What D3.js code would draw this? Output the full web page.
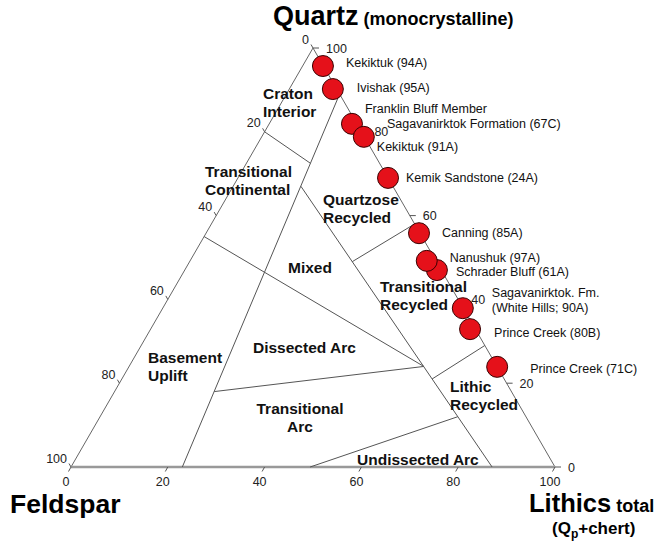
<!DOCTYPE html>
<html>
<head>
<meta charset="utf-8">
<script src="https://cdn.jsdelivr.net/npm/d3@7"></script>
<style>
  body { margin: 0; background: #fff; }
  text { font-family: Arial, "Liberation Sans", sans-serif; }
</style>
</head>
<body>
<svg id="chart"></svg>
<script>
// sample compositions, percent Q / F / L
const sampleNames = [
    "Kekiktuk (94A)", "Ivishak (95A)", "Sagavanirktok Formation (67C)", "Kekiktuk (91A)",
    "Kemik Sandstone (24A)", "Canning (85A)", "Schrader Bluff (61A)", "Nanushuk (97A)",
    "Sagavanirktok. Fm. (White Hills; 90A)", "Prince Creek (80B)", "Prince Creek (71C)"
];
const quartz   = [95.7, 90.2, 81.9, 78.8, 69.0, 55.8, 47.0, 49.2, 37.9, 32.9, 23.9];
const feldspar = [ 0.1,  0.8,  1.0,  0.1,  0.0,  0.2,  0.9,  1.9,  0.1,  1.1,  0.0];
const lithics  = [ 4.2,  9.0, 17.1, 21.1, 31.0, 44.0, 52.1, 48.9, 62.0, 66.0, 76.1];
const sampleLabels = [
    ["Kekiktuk (94A)"], ["Ivishak (95A)"],
    ["Franklin Bluff Member", "Sagavanirktok Formation (67C)"],
    ["Kekiktuk (91A)"], ["Kemik Sandstone (24A)"], ["Canning (85A)"],
    ["Schrader Bluff (61A)"], ["Nanushuk (97A)"],
    ["Sagavanirktok. Fm.", "(White Hills; 90A)"],
    ["Prince Creek (80B)"], ["Prince Creek (71C)"]
];

const tickValues = [0, 20, 40, 60, 80, 100];

// provenance field boundaries, endpoints as [Q, F, L]
const fieldLines = [
    [[89, 0, 11], [0, 77, 23]],
    [[80, 20, 0], [72.5, 14.3, 13.2]],
    [[55, 45, 0], [24, 15.1, 60.9]],
    [[67, 19, 14], [0, 13, 87]],
    [[58, 0, 42], [49, 17.4, 33.6]],
    [[29, 0, 71], [21, 14.9, 64.1]],
    [[18, 61.4, 20.6], [24, 15.1, 60.9]],
    [[0, 50.6, 49.4], [12, 14.1, 73.9]]
];
const fieldNames = [
    ["Craton", "Interior"], ["Transitional", "Continental"], ["Quartzose", "Recycled"],
    ["Mixed"], ["Transitional", "Recycled"], ["Dissected Arc"], ["Basement", "Uplift"],
    ["Transitional", "Arc"], ["Lithic", "Recycled"], ["Undissected Arc"]
];

// layout only
const labelOffsets = [
    [[23, 1]], [[24, 3]], [[13, -11], [35, 4]], [[13, 14]], [[18, 4]], [[23, 4]],
    [[19, 6]], [[23, 1]], [[29, -11], [29, 4]], [[24, 8]], [[33, 6]]
];
const fieldLabelPos = [
    [263, 99, "start"], [205, 177, "start"], [323, 205, "start"], [288, 273, "start"],
    [380, 292, "start"], [253, 353, "start"], [148, 363, "start"], [300, 414, "middle"],
    [450, 392, "start"], [357, 465, "start"]
];

const W = 659, H = 552;
const svg = d3.select("#chart").attr("width", W).attr("height", H);

const xs = d3.scaleLinear().domain([0, 100]).range([71, 555]);
const ys = d3.scaleLinear().domain([0, 100]).range([467, 48]);
const proj = ([q, f, l]) => [xs(l + q / 2), ys(q)];

const samples = sampleNames.map((name, i) => ({
    name: name,
    qfl: [quartz[i], feldspar[i], lithics[i]],
    lines: sampleLabels[i],
    offs: labelOffsets[i]
}));

const g = svg.append("g");

// triangle edges
const apex = proj([100, 0, 0]), fVert = proj([0, 100, 0]), lVert = proj([0, 0, 100]);
g.append("path")
    .attr("d", d3.line()([fVert, apex, lVert]))
    .attr("fill", "none")
    .attr("stroke", "#666")
    .attr("stroke-width", 1);
g.append("line")
    .attr("x1", fVert[0]).attr("y1", fVert[1])
    .attr("x2", lVert[0]).attr("y2", lVert[1])
    .attr("stroke", "#999")
    .attr("stroke-width", 2.5);

// field boundaries
g.selectAll(".field-line")
    .data(fieldLines)
    .enter()
    .append("path")
    .attr("class", "field-line")
    .attr("d", d => d3.line()(d.map(proj)))
    .attr("fill", "none")
    .attr("stroke", "#555")
    .attr("stroke-width", 1);

// ticks and tick labels
const tickFont = "12.5px";
tickValues.forEach(v => {
    // lithics along the bottom
    let p = proj([0, 100 - v, v]);
    g.append("line").attr("x1", p[0]).attr("y1", p[1])
        .attr("x2", p[0] - 2.5).attr("y2", p[1] + 4.5).attr("stroke", "#555");
    g.append("text").attr("x", p[0] - 5).attr("y", 486)
        .attr("text-anchor", "middle").style("font-size", tickFont).attr("fill", "#222").text(v);

    // quartz along the right edge
    p = proj([v, 0, 100 - v]);
    g.append("line").attr("x1", p[0]).attr("y1", p[1])
        .attr("x2", p[0] + 6).attr("y2", p[1]).attr("stroke", "#555");
    g.append("text").attr("x", p[0] + 13).attr("y", p[1] + 4.5)
        .style("font-size", tickFont).attr("fill", "#222").text(v);

    // feldspar along the left edge
    p = proj([100 - v, v, 0]);
    g.append("line").attr("x1", p[0]).attr("y1", p[1])
        .attr("x2", p[0] - 2).attr("y2", p[1] - 3.5).attr("stroke", "#555");
    g.append("text").attr("x", p[0] - 4).attr("y", p[1] - 4.5)
        .attr("text-anchor", "end").style("font-size", tickFont).attr("fill", "#222").text(v);
});

// field names
fieldNames.forEach((lines, i) => {
    const [x, y, anchor] = fieldLabelPos[i];
    const t = g.append("text")
        .attr("x", x).attr("y", y)
        .attr("text-anchor", anchor)
        .style("font-size", "15.5px")
        .style("font-weight", "bold")
        .attr("fill", "#111");
    lines.forEach((s, k) => {
        t.append("tspan").attr("x", x).attr("dy", k === 0 ? 0 : 18).text(s);
    });
});

// sample points
g.selectAll(".sample")
    .data(samples)
    .enter()
    .append("circle")
    .attr("class", "sample")
    .attr("cx", d => proj(d.qfl)[0])
    .attr("cy", d => proj(d.qfl)[1])
    .attr("r", 10.5)
    .attr("fill", "#e5111a")
    .attr("stroke", "#3a0000")
    .attr("stroke-width", 1);

samples.forEach(d => {
    const [cx, cy] = proj(d.qfl);
    d.lines.forEach((s, k) => {
        g.append("text")
            .attr("x", cx + d.offs[k][0])
            .attr("y", cy + d.offs[k][1])
            .style("font-size", "12.5px")
            .attr("fill", "#111")
            .text(s);
    });
});

// corner titles
const qt = svg.append("text").attr("x", 273).attr("y", 25)
    .style("font-weight", "bold").attr("fill", "#000");
qt.append("tspan").style("font-size", "27px").text("Quartz");
qt.append("tspan").style("font-size", "18px").text(" (monocrystalline)");

svg.append("text").attr("x", 10).attr("y", 513)
    .style("font-size", "26.5px").style("font-weight", "bold").text("Feldspar");

const lt = svg.append("text").attr("x", 529).attr("y", 512)
    .style("font-weight", "bold");
lt.append("tspan").style("font-size", "25.5px").text("Lithics");
lt.append("tspan").style("font-size", "18px").text(" total");

const qp = svg.append("text").attr("x", 552).attr("y", 534)
    .style("font-weight", "bold").style("font-size", "17px");
qp.append("tspan").text("(Q");
qp.append("tspan").attr("dy", 4).style("font-size", "12px").text("p");
qp.append("tspan").attr("dy", -4).text("+chert)");
</script>
</body>
</html>
